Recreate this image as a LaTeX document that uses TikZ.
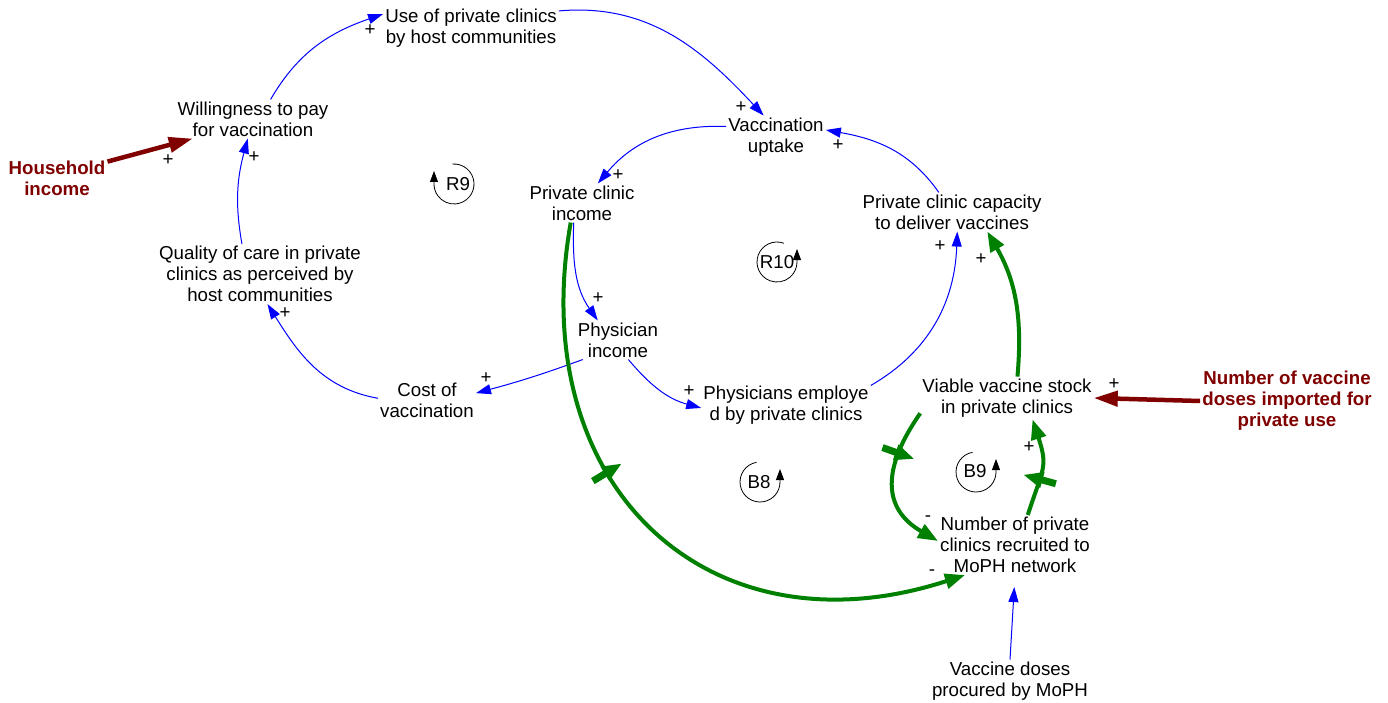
\documentclass[tikz,border=0pt]{standalone}
\usepackage{fontspec}
\setmainfont{Liberation Sans}
\usetikzlibrary{arrows.meta}
\usetikzlibrary{decorations.markings}

\definecolor{linkblue}{RGB}{0,0,255}
\definecolor{delaygreen}{RGB}{0,128,0}
\definecolor{extred}{RGB}{128,0,0}
\newcommand{\varfont}{\fontsize{18.7}{21}\selectfont}

\tikzset{
	var/.style={align=center, font=\varfont, inner sep=2pt},
	ext/.style={align=center, font=\varfont\bfseries, text=extred, inner sep=2pt},
	pol/.style={font=\varfont, inner sep=0pt},
	blink/.style={draw=linkblue, line width=1pt, -{Triangle[length=15pt,width=10pt]}},
	glink/.style={draw=delaygreen, line width=4pt, -{Triangle[length=20pt,width=15pt]}},
	rlink/.style={draw=extred, line width=4.5pt, -{Triangle[length=24pt,width=15pt]}},
	delaymark/.style={postaction={decorate, decoration={markings,
		mark=at position #1 with {\draw[delaygreen, line width=7pt] (0,-17) -- (0,17);}}}},
	loopmark/.style={draw=black, line width=0.8pt, -{Triangle[length=11pt,width=8pt]}}
}

\begin{document}
\begin{tikzpicture}[x=1pt,y=1pt]
		\useasboundingbox (0,0) rectangle (1388,-703);
		\node[var] (use) at (471,-28) {Use of private clinics\\by host communities};
		\node[var] (will) at (253,-119) {Willingness to pay\\for vaccination};
		\node[ext] (house) at (57,-178) {Household\\income};
		\node[var] (qual) at (260,-274) {Quality of care in private\\clinics as perceived by\\host communities};
		\node[var] (cost) at (427,-400) {Cost of\\vaccination};
		\node[var] (vacc) at (776,-137) {Vaccination\\uptake};
		\node[var] (pci) at (582,-203) {Private clinic\\income};
		\node[var] (cap) at (952,-212) {Private clinic capacity\\to deliver vaccines};
		\node[var] (phys) at (618,-340) {Physician\\income};
		\node[var] (emp) at (786,-405) {Physicians employe\\d by private clinics};
		\node[var] (stock) at (1007,-398) {Viable vaccine stock\\in private clinics};
		\node[ext] (imp) at (1287,-401) {Number of vaccine\\doses imported for\\private use};
		\node[var] (npc) at (1015,-545) {Number of private\\clinics recruited to\\MoPH network};
		\node[var] (vd) at (1010,-681) {Vaccine doses\\procured by MoPH};

		\draw[blink] (will.48) to[out=60,in=199] (use.171);
		\draw[blink] (use.11) to[out=5,in=133] (vacc.120);
		\draw[blink] (vacc.168) to[out=178,in=50] (pci.51);
		\draw[blink] (cap.124) to[out=125,in=-10] (vacc.8);
		\draw[blink] (pci.247) to[out=268,in=125] (phys.136);
		\draw[blink] (phys.209) to[out=200,in=15] (cost.8);
		\draw[blink] (cost.178) to[out=170,in=-58] (qual.284);
		\draw[blink] (qual.121) to[out=100,in=255] (will.255);
		\draw[blink] (phys.298) to[out=-50,in=165] (emp.182);
		\draw[blink] (emp.13) to[out=30,in=268] (cap.285);
		\draw[blink, shorten >=12pt] (vd.north) -- (npc.south);

		\draw[glink, delaymark=0.39] (pci.240) to[out=260,in=198,looseness=1.3] (npc.211);
		\draw[glink, delaymark=0.3] (stock.190) to[out=235,in=150,looseness=1.3] (npc.177);
		\draw[glink, delaymark=0.38] (npc.67) to[out=72,in=288,looseness=1.35] (stock.-40);
		\draw[glink] (stock.64) to[out=85,in=300] (cap.-29);

		\draw[rlink] (house.18) -- (will.198);
		\draw[rlink] (imp.west) -- (stock.east);

		\node[pol] (p1) at (370,-30) {+};
		\node[pol] (p2) at (741,-107) {+};
		\node[pol] (p3) at (618,-175) {+};
		\node[pol] (p4) at (838,-145) {+};
		\node[pol] (p5) at (598,-298) {+};
		\node[pol] (p6) at (486,-378) {+};
		\node[pol] (p7) at (285,-313) {+};
		\node[pol] (p8) at (254,-157) {+};
		\node[pol] (p9) at (689,-391) {+};
		\node[pol] (p10) at (940,-246) {+};
		\node[pol] (m1) at (932,-573) {-};
		\node[pol] (m2) at (928,-519) {-};
		\node[pol] (p11) at (1029,-447) {+};
		\node[pol] (p12) at (981,-259) {+};
		\node[pol] (p13) at (168,-160) {+};
		\node[pol] (p14) at (1114,-384) {+};

		\node[var] (r9) at (458,-184) {R9};
		\draw[loopmark] (454,-184) ++(95:20) arc[start angle=95, end angle=-180, radius=20] -- ++(0,13);
		\node[var] (r10) at (777,-262) {R10};
		\draw[loopmark] (777,-262) ++(70:20) arc[start angle=70, end angle=360, radius=20] -- ++(0,13);
		\node[var] (b8) at (759,-482) {B8};
		\draw[loopmark] (760,-482) ++(100:20) arc[start angle=100, end angle=360, radius=20] -- ++(0,13);
		\node[var] (b9) at (975,-471) {B9};
		\draw[loopmark] (976,-472) ++(100:20) arc[start angle=100, end angle=360, radius=20] -- ++(0,13);
	\end{tikzpicture}
\end{document}
